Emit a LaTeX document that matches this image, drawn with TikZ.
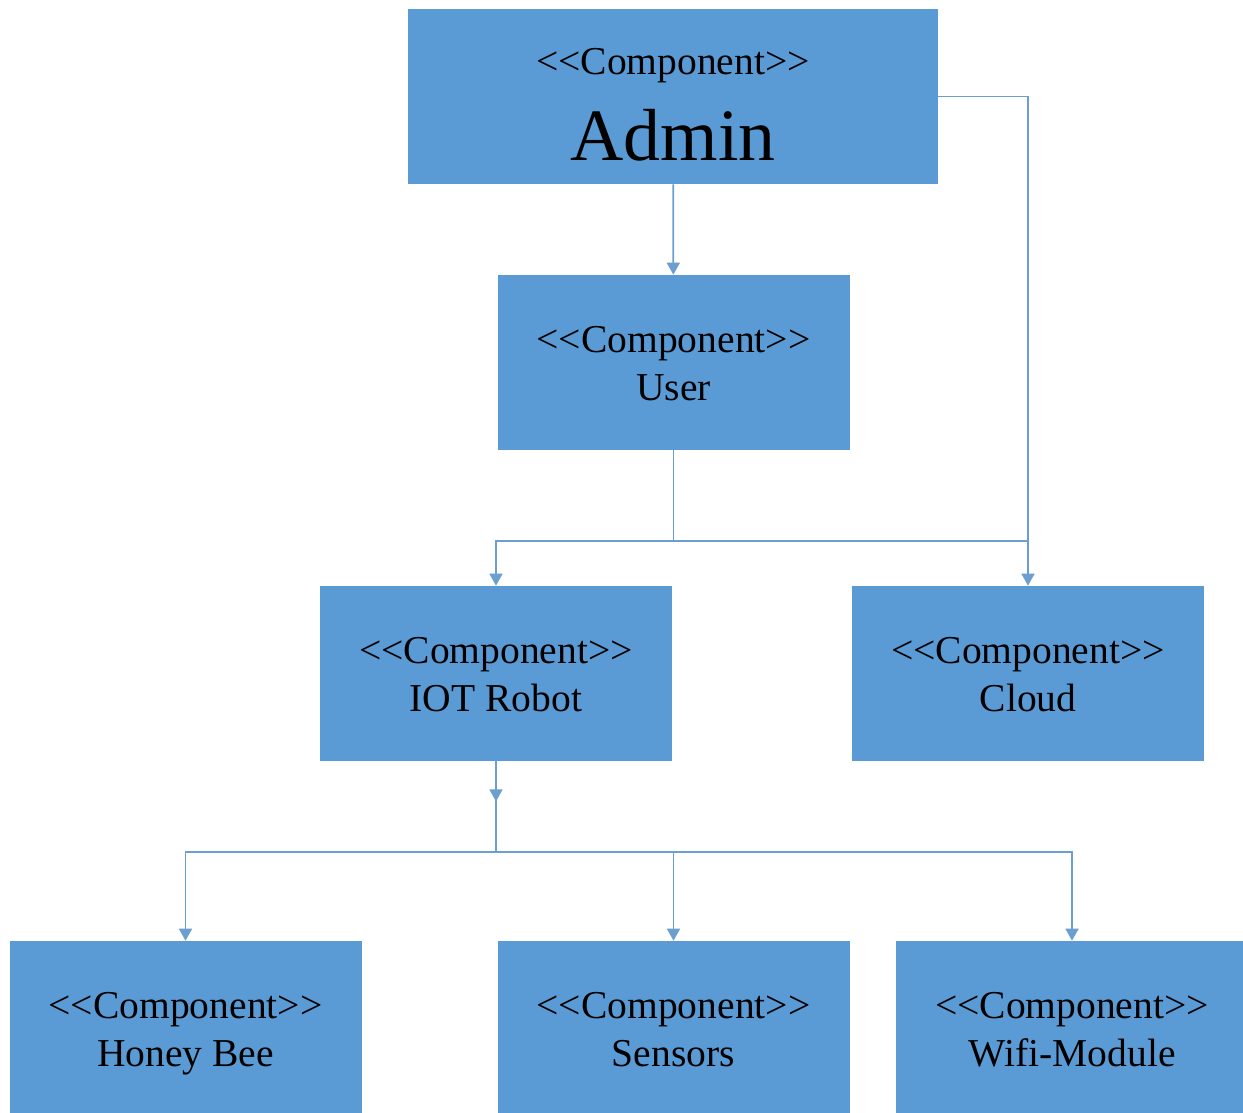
\documentclass[tikz,border=0pt]{standalone}
\usepackage{fontspec}
\setmainfont{Liberation Serif}
\usetikzlibrary{arrows.meta}
\definecolor{compblue}{HTML}{5B9BD5}
\definecolor{linkblue}{HTML}{6A9FD0}
\newcommand{\stereo}{\rule{0pt}{1.07em}<\kern0pt<Component>\kern0pt>}
\newcommand{\compname}[1]{\stereo\\ #1\strut}

\begin{document}
\begin{tikzpicture}[>={Triangle[length=2.4mm,width=2.6mm]}, bx/.style={fill=compblue, minimum width=7.04cm, minimum height=3.5cm, inner sep=0pt, align=center, font=\fontsize{22.5}{27}\selectfont}, ln/.style={draw=linkblue, line width=1pt}]
	\useasboundingbox (0,0) rectangle (24.86,-22.24);
	\node[bx, minimum width=10.6cm] (a) at (13.46,-1.93) {\stereo\\[14pt] {\fontsize{42}{42}\selectfont Admin}};
	\node[bx] (b) at (13.47,-7.25) {\compname{User}};
	\node[bx] (c) at (9.92,-13.47) {\compname{IOT Robot}};
	\node[bx] (d) at (20.56,-13.47) {\compname{Cloud}};
	\node[bx] (e) at (3.71,-20.57) {\compname{Honey Bee}};
	\node[bx] (f) at (13.47,-20.57) {\compname{Sensors}};
	\node[bx] (g) at (21.44,-20.57) {\compname{Wifi-Module}};
	\coordinate (k) at (13.47,-10.82);
	\coordinate (j) at (9.92,-17.04);
	\draw[ln, ->] (a) -- (b);
	\draw[ln, ->] (a.east) -| (d.north);
	\draw[ln] (b) -- (k);
	\draw[ln, ->] (k) -| (c.north);
	\draw[ln] (k) -- (k -| d.north);
	\draw[ln, ->] (c.south) -- ++(0,-0.8);
	\draw[ln] (c.south) -- (j);
	\draw[ln, ->] (j) -| (e.north);
	\draw[ln, ->] (j) -| (f.north);
	\draw[ln, ->] (j) -| (g.north);
\end{tikzpicture}
\end{document}
